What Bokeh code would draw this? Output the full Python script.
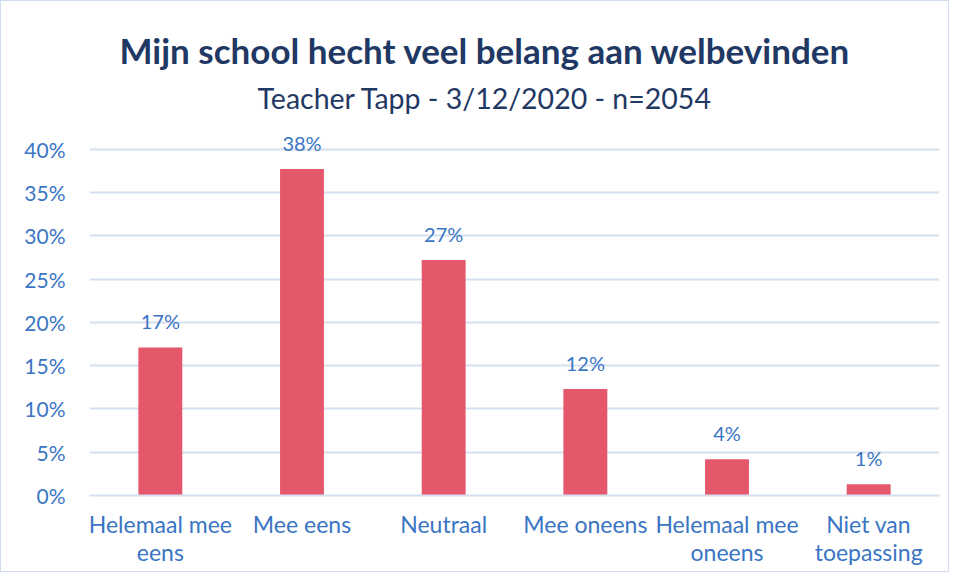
from bokeh.plotting import figure
from bokeh.models import ColumnDataSource, Title, FixedTicker
from bokeh.core.properties import value
from bokeh.embed import file_html
from bokeh.resources import INLINE

categories = ["Helemaal mee\neens", "Mee eens", "Neutraal", "Mee oneens", "Helemaal mee\noneens", "Niet van\ntoepassing"]
values = [17.1, 37.7, 27.2, 12.3, 4.2, 1.3]
value_labels = ["17%", "38%", "27%", "12%", "4%", "1%"]
y_ticks = [0, 5, 10, 15, 20, 25, 30, 35, 40]

FONT = "Lato"
BLUE = "#3A75C4"
NAVY = "#1F3864"
BAR = "#E5586C"
GRID = "#D5E0F0"

source = ColumnDataSource(dict(cat=categories, val=values, lab=value_labels, ly=[v + 3.0 for v in values]))

p = figure(x_range=categories, y_range=(0, 42.5), frame_width=850, frame_height=368,
           output_backend="svg", toolbar_location=None,
           min_border_left=88, min_border_right=9, min_border_bottom=76, min_border_top=126)

p.vbar(x="cat", top="val", width=0.31, source=source, fill_color=BAR, line_color=None)
p.text(x="cat", y="ly", text="lab", source=source, text_align="center", text_baseline="middle",
       text_color=BLUE, text_font=value(FONT), text_font_size="20px")

p.yaxis.ticker = FixedTicker(ticks=y_ticks)
p.yaxis.major_label_overrides = {t: f"{t}%" for t in y_ticks}
p.yaxis.axis_line_color = None
p.yaxis.major_tick_line_color = None
p.yaxis.minor_tick_line_color = None
p.yaxis.major_label_text_color = BLUE
p.yaxis.major_label_text_font = FONT
p.yaxis.major_label_text_font_size = "21px"
p.yaxis.major_label_standoff = 18

p.xaxis.axis_line_color = GRID
p.xaxis.axis_line_width = 2
p.xaxis.major_tick_line_color = None
p.xaxis.major_label_text_color = BLUE
p.xaxis.major_label_text_font = FONT
p.xaxis.major_label_text_font_size = "23px"
p.xaxis.major_label_text_line_height = 1.0
p.xaxis.major_label_standoff = 8

p.xgrid.grid_line_color = None
p.ygrid.grid_line_color = GRID
p.ygrid.grid_line_width = 2
p.ygrid.ticker = FixedTicker(ticks=y_ticks)
p.outline_line_color = None

p.add_layout(Title(text="Teacher Tapp - 3/12/2020 - n=2054", align="left", text_font=FONT,
                   text_font_size="28.5px", text_font_style="normal", text_color=NAVY,
                   offset=168, standoff=26), "above")
p.add_layout(Title(text="Mijn school hecht veel belang aan welbevinden", align="left", text_font=FONT,
                   text_font_size="35px", text_font_style="bold", text_color=NAVY,
                   offset=30, standoff=-10), "above")

p.styles = {"border": "1px solid #D0DEF0"}

open("out.html", "w").write(file_html(p, INLINE))
